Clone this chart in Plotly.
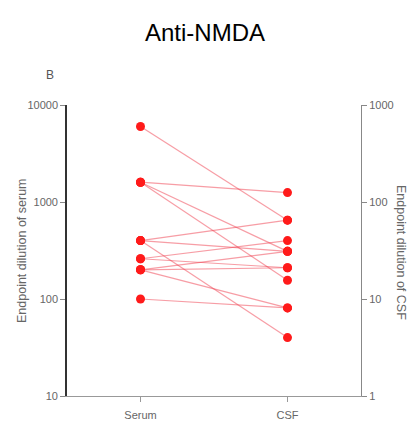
import plotly.graph_objects as go

# Paired endpoint dilutions per patient: serum titre -> CSF titre
serum_titre = [6000, 1600, 1600, 1600, 400, 400, 400, 260, 260, 200, 200, 200, 100]
csf_titre = [65, 125, 31, 15.6, 65, 31, 4, 40, 21, 31, 21, 8.1, 8.1]

categories = ["Serum", "CSF"]
left_ticks = [10, 100, 1000, 10000]
right_ticks = [1, 10, 100, 1000]

# The CSF axis is the serum axis shifted by one decade
CSF_SCALE = 10

W, H = 411, 423
ML, MR, MT, MB = 67, 50, 105, 27

RED = "#ff1a1a"
LINE = "rgba(240,60,75,0.5)"
AXIS = "#888888"
NARROW = "Liberation Sans Narrow, Liberation Sans, Arial"
TICKFONT = dict(family=NARROW, size=11, color="#666666")

fig = go.Figure()

for s, c in zip(serum_titre, csf_titre):
    fig.add_trace(go.Scatter(
        x=[0, 1], y=[s, c * CSF_SCALE], mode="lines",
        line=dict(color=LINE, width=1.2), hoverinfo="skip", showlegend=False,
    ))

fig.add_trace(go.Scatter(
    x=[0] * len(serum_titre), y=serum_titre, mode="markers",
    marker=dict(color=RED, size=9), showlegend=False,
))
fig.add_trace(go.Scatter(
    x=[1] * len(csf_titre), y=csf_titre, mode="markers", yaxis="y2",
    marker=dict(color=RED, size=9), showlegend=False,
))

fig.update_layout(
    width=W, height=H,
    margin=dict(l=ML, r=MR, t=MT, b=MB),
    plot_bgcolor="white", paper_bgcolor="white",
    xaxis=dict(
        range=[-0.5, 1.5], tickvals=[0, 1], ticktext=categories, automargin=False,
        showline=True, linecolor="#999999", linewidth=1, showgrid=False, zeroline=False,
        ticks="outside", ticklen=5, tickcolor="#999999", tickfont=TICKFONT,
        ticklabelstandoff=4,
    ),
    yaxis=dict(
        type="log", range=[1, 4], tickvals=left_ticks, ticktext=[str(v) for v in left_ticks],
        automargin=False,
        showline=True, linecolor="#333333", linewidth=1.6, showgrid=False, zeroline=False,
        ticks="outside", ticklen=5, tickcolor=AXIS, tickfont=TICKFONT,
    ),
    yaxis2=dict(
        type="log", range=[0, 3], overlaying="y", side="right", anchor="x",
        tickvals=right_ticks, ticktext=[str(v) for v in right_ticks], automargin=False,
        showline=True, linecolor=AXIS, linewidth=1, showgrid=False, zeroline=False,
        ticks="outside", ticklen=5, tickcolor=AXIS, tickfont=TICKFONT,
    ),
)


def label(text, px, py, size, color, family, angle=0):
    """Free text placed at a pixel position on the page."""
    fig.add_annotation(
        text=text, showarrow=False, textangle=angle,
        xref="paper", yref="paper", xanchor="center", yanchor="middle",
        x=(px - ML) / (W - ML - MR), y=1 - (py - MT) / (H - MT - MB),
        font=dict(family=family, size=size, color=color),
    )


label("Anti-NMDA", 205, 32, 24, "black", "Liberation Sans, Arial")
label("B", 50, 75, 12, "#555555", NARROW)
label("Endpoint dilution of serum", 22, 251, 12.5, "#666666", NARROW, -90)
label("Endpoint dilution of CSF", 401, 252, 12.5, "#666666", NARROW, 90)

fig.write_html("out.html")
